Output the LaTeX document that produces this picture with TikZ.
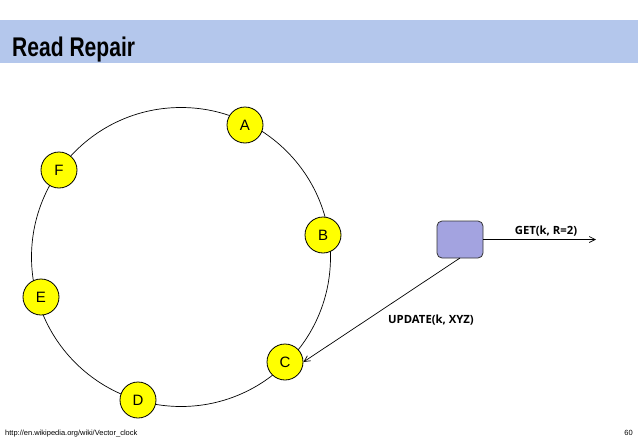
\documentclass[tikz,border=0pt]{standalone}
\usepackage{fontspec}
\setmainfont{Liberation Sans}
\newfontfamily\labfont{Open Sans}
\usetikzlibrary{arrows.meta}
\definecolor{barblue}{HTML}{B4C7EC}
\definecolor{boxblue}{HTML}{A3A3E0}
\definecolor{nodeyellow}{HTML}{FFFF00}
\tikzset{
  ringnode/.style={circle, draw=black, fill=nodeyellow, minimum size=36pt, inner sep=0pt, font=\fontsize{15}{15}\selectfont, line width=0.8pt},
  clientbox/.style={draw=black!80, fill=boxblue, rounded corners=5pt, minimum width=46pt, minimum height=37pt, line width=0.8pt},
  msg/.style={font=\labfont\bfseries\fontsize{11.3}{11.3}\selectfont},
  conn/.style={draw=black, line width=0.7pt, -{Straight Barb[length=6pt,width=6pt]}}
}
\begin{document}
\begin{tikzpicture}[x=1pt,y=-1pt]
\useasboundingbox (0,0) rectangle (638,442);
\fill[barblue] (0,20) rectangle (638,63);
\node[anchor=base west, inner sep=0pt] (title) at (12,56) {\scalebox{0.78}[1]{\fontsize{27}{27}\selectfont\bfseries Read Repair}};
\draw[line width=0.7pt] (181,257) circle (149.5);
\node[ringnode] (A) at (245,125) {A};
\node[ringnode] (B) at (323,235) {B};
\node[ringnode] (C) at (285,362) {C};
\node[ringnode] (D) at (138,400) {D};
\node[ringnode] (E) at (41,297) {E};
\node[ringnode] (F) at (59,170) {F};
\node[clientbox] (client) at (460,239.5) {};
\coordinate (getend) at (596,239.5);
\draw[conn] (client.east) -- (getend);
\node[msg] (getlbl) at (546,231) {GET(k,\ R=2)};
\coordinate (cbot) at (460,258);
\draw[conn] (cbot) -- (C.east);
\node[msg] (updlbl) at (431,320) {UPDATE(k,\ XYZ)};
\node[anchor=base west, inner sep=0pt, font=\fontsize{7.5}{7.5}\selectfont] (src) at (5,435) {http://en.wikipedia.org/wiki/Vector\_clock};
\node[anchor=base east, inner sep=0pt, font=\fontsize{7.5}{7.5}\selectfont] (pg) at (633,435) {60};
\end{tikzpicture}
\end{document}
